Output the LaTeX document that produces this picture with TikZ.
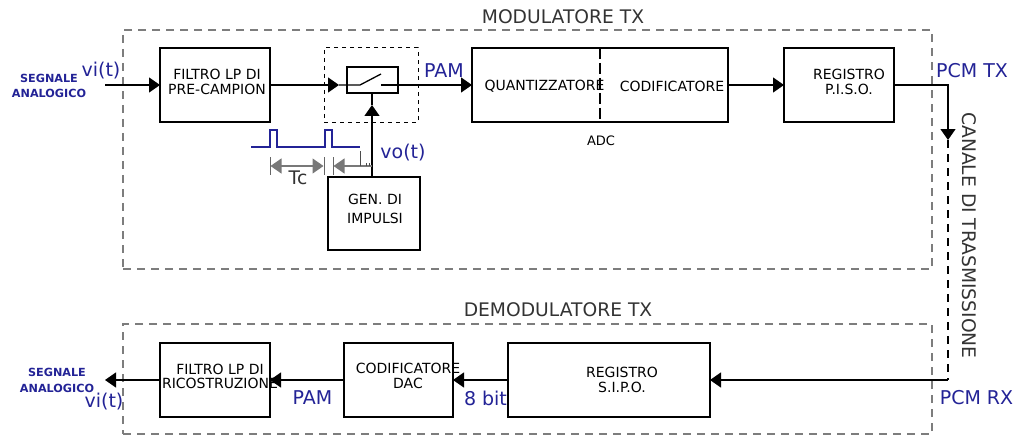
\documentclass[tikz,border=0pt]{standalone}
\usepackage{fontspec}
\setmainfont{DejaVu Sans}
\usepackage{xcolor}
\usepackage{tikz}
\usetikzlibrary{arrows.meta,positioning}
\definecolor{segnale}{RGB}{35,35,150}
\definecolor{tratteggio}{RGB}{125,125,125}
\definecolor{quota}{RGB}{120,120,120}

\begin{document}
\begin{tikzpicture}[
  x=1pt,y=-1pt,
  blocco/.style={draw,line width=1.3pt,minimum width=#1,inner sep=0pt,outer sep=0pt},
  testo/.style={align=center,inner sep=0pt,font=\fontsize{14}{14.2}\selectfont},
  titolo/.style={inner sep=0pt,font=\fontsize{18.7}{20}\selectfont,text=black!80},
  blu/.style={inner sep=0pt,font=\fontsize{19}{20}\selectfont,text=segnale},
  sorgente/.style={align=center,inner sep=0pt,text=segnale,font=\fontsize{11.2}{14.5}\selectfont\bfseries},
  arr/.style={-{Triangle[length=11pt,width=15pt]},line width=1.3pt},
  filo/.style={line width=1.3pt},
  riquadro/.style={draw=tratteggio,line width=1.1pt,dash pattern=on 8pt off 6pt,minimum width=809pt,inner sep=0pt},
  dimarr/.style={{Triangle[length=11pt,width=15pt]}-{Triangle[length=11pt,width=15pt]},draw=quota,line width=1.3pt},
]
\useasboundingbox (0,0) rectangle (1013,436);

% modulatore
\node[riquadro,minimum height=239pt] (modtx) at (527.5,149.5) {};
\node[titolo] (modtitolo) at (563,17) {MODULATORE TX};

\node[blocco=110pt,minimum height=74pt] (filtrotx) at (215,85) {};
\node[testo] (filtrotxt) at (217,82) {FILTRO LP DI\\PRE-CAMPION};
\node[draw,line width=1pt,dash pattern=on 4pt off 4pt,minimum width=94pt,minimum height=74pt,inner sep=0pt] (campion) at (371,85) {};
\node[blocco=51pt,minimum height=26pt] (switch) at (372.5,80) {};
\node[blocco=92pt,minimum height=73pt] (genimp) at (374,213.5) {};
\node[testo] (gentxt) at (375,209) {GEN. DI\\[4pt]IMPULSI};
\node[blocco=256pt,minimum height=74pt] (adc) at (600,85) {};
\node[testo] (quant) at (544.5,86) {QUANTIZZATORE};
\node[testo] (codif) at (672,86) {CODIFICATORE};
\node[testo,font=\fontsize{13}{14}\selectfont] (adctxt) at (601,141) {ADC};
\node[blocco=110pt,minimum height=74pt] (piso) at (839,85) {};
\node[testo] (pisotxt) at (849,82) {REGISTRO\\P.I.S.O.};

% demodulatore
\node[riquadro,minimum height=110pt] (demodtx) at (527.5,379) {};
\node[titolo] (demodtitolo) at (558,310) {DEMODULATORE TX};
\node[blocco=110pt,minimum height=74pt] (filtrorx) at (215,380) {};
\node[testo] (filtrorxtxt) at (220,376.5) {FILTRO LP DI\\RICOSTRUZIONE};
\node[blocco=109pt,minimum height=74pt] (dac) at (398.5,380) {};
\node[testo] (dactxt) at (408,376) {CODIFICATORE\\DAC};
\node[blocco=202pt,minimum height=74pt] (sipo) at (609,380) {};
\node[testo] (sipotxt) at (622,380) {REGISTRO\\[1pt]S.I.P.O.};

% punti di passaggio
\coordinate (ingresso) at (105,85);
\coordinate (tipcamp) at (339,85);
\coordinate (contattoa) at (360,85);
\coordinate (contattob) at (381,74);
\coordinate (contattoc) at (381,85);
\coordinate (tipgen) at (372,105);
\coordinate (swbasso) at (372,93);
\coordinate (genalto) at (372,177);
\coordinate (adcin) at (472,85);
\coordinate (pisoout) at (894,85);
\coordinate (angolotx) at (948,85);
\coordinate (tipcanale) at (948,140);
\coordinate (angolorx) at (948,380);
\coordinate (uscita) at (105,380);

% connessioni
\draw[arr] (ingresso) -- (filtrotx.west);
\draw[arr] (filtrotx.east) -- (tipcamp);
\draw[filo] (tipcamp) -- (contattoa) -- (contattob);
\draw[arr] (contattoc) -- (adcin);
\draw[arr] (genalto) -- (tipgen);
\draw[filo] (tipgen) -- (swbasso);
\draw[arr] (adc.east) -- (piso.west);
\draw[arr] (pisoout) -- (angolotx) -- (tipcanale);
\draw[line width=1.1pt,dash pattern=on 8pt off 6pt] (tipcanale) -- (angolorx);
\draw[arr] (angolorx) -- (sipo.east);
\draw[arr] (sipo.west) -- (dac.east);
\draw[arr] (dac.west) -- (filtrorx.east);
\draw[arr] (filtrorx.west) -- (uscita);

% divisione ADC
\coordinate (adcalto) at (adc.north);
\coordinate (adcbasso) at (adc.south);
\draw[line width=1.1pt,dash pattern=on 11pt off 4pt] (adcalto) -- (adcbasso);

% impulsi
\draw[segnale,line width=1.2pt] (251,147) -- (270,147) -- (270,130) -- (277,130) -- (277,147)
  -- (325,147) -- (325,130) -- (332,130) -- (332,147) -- (360,147);
\draw[black!60,line width=1pt] (270,157) -- (270,175) (324,157) -- (324,175) (333,157) -- (333,175);
\draw[dimarr] (270.5,166) -- (323.5,166);
\draw[draw=quota,line width=1.3pt,{Triangle[length=11pt,width=15pt]}-] (333.5,166) -- (372,166);
\draw[black!70,line width=1pt] (360,151) -- (360,166);
\draw[black!70,line width=1pt] (366,163) -- (366,166) (369,163) -- (369,166);

% etichette
\node[sorgente] (segnaletx) at (49,86) {SEGNALE\\ANALOGICO};
\node[sorgente] (segnalerx) at (57,380.5) {SEGNALE\\[1.5pt]ANALOGICO};
\node[blu] (vitx) at (101,71) {vi(t)};
\node[blu] (virx) at (104,402) {vi(t)};
\node[blu] (pamtx) at (444,71) {PAM};
\node[blu] (pamrx) at (312.5,398) {PAM};
\node[blu] (bit) at (485.5,398) {8 bit};
\node[blu] (pcmtx) at (972,71) {PCM TX};
\node[blu] (pcmrx) at (976.5,398) {PCM RX};
\node[blu] (vot) at (403,153) {vo(t)};
\node[titolo] (tc) at (298,178) {Tc};
\node[titolo,rotate=-90] (canale) at (969,235.5) {CANALE DI TRASMISSIONE};
\end{tikzpicture}
\end{document}
